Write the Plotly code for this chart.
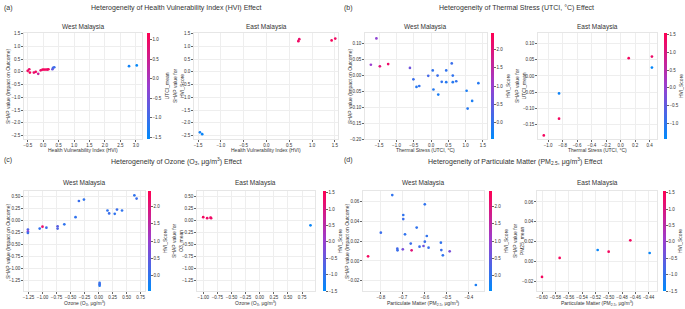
import plotly.graph_objects as go

# ---------------- data ----------------
# (a) Health Vulnerability Index
a_west_x = [-0.50, -0.45, -0.43, -0.30, -0.24, -0.16, -0.08, -0.02, 0.03, 0.09, 0.14, 0.17, 0.30, 0.32, 0.36, 2.78, 3.03]
a_west_y = [0.04, 0.10, -0.03, -0.03, 0.00, -0.08, 0.06, 0.09, 0.09, 0.09, 0.09, 0.10, 0.10, 0.16, 0.18, 0.22, 0.25]
a_west_c = [1.0, 0.9, 1.1, 0.9, 1.0, 0.4, 0.9, 1.0, 1.1, 1.0, 0.9, 1.0, -0.6, -0.9, -1.0, -1.4, -1.5]
a_east_x = [-1.46, -1.41, 0.70, 0.72, 1.43, 1.51]
a_east_y = [-2.37, -2.44, 1.20, 1.28, 1.23, 1.30]
a_east_c = [-1.3, -1.4, 1.3, 1.2, 1.4, 1.3]

# (b) Thermal stress
b_west_x = [-1.58, -1.74, -1.48, -1.24, -0.61, -0.51, -0.42, -0.34, -0.08, 0.05, 0.07, 0.19, 0.21, 0.31,
            0.44, 0.44, 0.60, 0.63, 0.63, 0.73, 1.03, 1.06, 1.19, 1.37]
b_west_y = [0.117, 0.034, 0.029, 0.036, 0.024, -0.012, -0.036, -0.033, -0.001, 0.016, -0.044, 0.000, -0.060,
            -0.020, 0.016, -0.021, 0.038, 0.000, -0.021, -0.018, -0.048, -0.104, -0.080, -0.024]
b_west_c = [0.9, 1.0, 2.0, 2.2, 0.6, 0.1, -0.1, 0.0, 0.2, 0.0, -0.1, 0.1, -0.2, 0.0, 0.0, -0.1, 0.1, 0.0,
            -0.1, 0.0, -0.2, -0.1, -0.2, -0.1]
b_east_x = [-1.06, -0.85, -0.85, 0.11, 0.43, 0.43]
b_east_y = [-0.184, -0.132, -0.054, 0.055, 0.060, 0.026]
b_east_c = [1.4, 1.4, -1.3, 1.4, 1.3, -1.4]

# (c) Ozone
c_west_x = [-1.26, -1.26, -1.26, -1.05, -1.00, -0.93, -0.73, -0.73, -0.61, -0.41, -0.35, -0.26,
            0.02, 0.02, 0.02, 0.16, 0.19, 0.29, 0.33, 0.42, 0.64, 0.68]
c_west_y = [-0.19, -0.23, -0.26, -0.17, -0.13, -0.15, -0.12, -0.17, -0.08, 0.07, 0.41, 0.44,
            -1.31, -1.34, -1.37, 0.21, 0.15, 0.14, 0.23, 0.21, 0.53, 0.46]
c_west_c = [0.3, 1.0, 0.1, 0.0, 2.2, 0.1, 0.4, 0.3, 0.0, 0.0, 0.1, 0.0,
            0.0, 0.2, -0.1, 0.0, 0.1, 0.0, 0.1, 0.0, 0.0, 0.1]
c_east_x = [-1.00, -0.93, -0.87, -0.86, 0.90]
c_east_y = [0.07, 0.05, 0.06, 0.05, -0.10]
c_east_c = [1.4, 1.3, 1.4, 1.3, -1.4]

# (d) Particulate matter
d_west_x = [-0.858, -0.748, -0.800, -0.725, -0.724, -0.700, -0.698, -0.698, -0.690, -0.664, -0.660, -0.637,
            -0.624, -0.606, -0.600, -0.600, -0.591, -0.583, -0.527, -0.525, -0.518, -0.487, -0.368]
d_west_y = [0.0047, 0.0668, 0.0287, 0.0125, 0.0108, 0.0118, 0.0466, 0.0425, 0.0270, 0.0176, 0.0108, 0.0338,
            0.0145, 0.0152, 0.0574, 0.0196, 0.0253, 0.0135, 0.0186, 0.0111, 0.0057, 0.0098, -0.0243]
d_west_c = [2.3, 0.0, 0.1, 0.2, 0.1, 0.7, 0.0, 0.1, 0.0, 0.1, 2.0, 0.0,
            0.1, 0.6, 0.0, 0.1, 0.0, 0.1, 0.0, 0.1, 0.0, 0.7, -0.2]
d_east_x = [-0.600, -0.5735, -0.5165, -0.500, -0.4675, -0.4385]
d_east_y = [-0.0154, 0.0037, 0.0117, 0.0100, 0.0214, 0.0087]
d_east_c = [1.4, 1.4, -1.4, 1.4, 1.4, -1.4]

# ---------------- styling ----------------
W, H = 685, 309
SHAP = [[0.0, "#008bfb"], [0.5, "#9a3fd0"], [1.0, "#ff0052"]]
FONT = "Liberation Sans, Arial, sans-serif"
TXT = "#333333"


def px(x):
    return x / W


def py(y):
    return 1 - y / H


panels = [
    dict(x=a_west_x, y=a_west_y, c=a_west_c, xd=(24, 142), yd=(33, 139), xr=(-0.62, 3.2), yr=(-2.63, 1.52),
         dx=0.5, dy=0.5, cmin=-1.54, cmax=1.17, cbx=147, cbt="UTCI_mean", xf=".1f", yf=".1f"),
    dict(x=a_east_x, y=a_east_y, c=a_east_c, xd=(194, 338), yd=(33, 139), xr=(-1.59, 1.57), yr=(-2.63, 1.52),
         dx=0.5, dy=0.5, cmin=-1.5, cmax=1.5, cbx=None, cbt=None, xf=".1f", yf=".1f"),
    dict(x=b_west_x, y=b_west_y, c=b_west_c, xd=(365, 487), yd=(33, 139), xr=(-1.91, 1.62), yr=(-0.2, 0.134),
         dx=0.5, dy=0.05, cmin=-0.45, cmax=2.45, cbx=491, cbt="HVI_Score", xf=".1f", yf=".2f"),
    dict(x=b_east_x, y=b_east_y, c=b_east_c, xd=(538, 657), yd=(33, 139), xr=(-1.14, 0.50), yr=(-0.195, 0.133),
         dx=0.2, dy=0.05, cmin=-1.45, cmax=1.55, cbx=664, cbt="HVI_Score", xf=".1f", yf=".2f"),
    dict(x=c_west_x, y=c_west_y, c=c_west_c, xd=(24, 145), yd=(191, 291), xr=(-1.33, 0.83), yr=(-1.48, 0.62),
         dx=0.25, dy=0.25, cmin=-0.45, cmax=2.45, cbx=148, cbt="HVI_Score", xf=".2f", yf=".2f"),
    dict(x=c_east_x, y=c_east_y, c=c_east_c, xd=(197, 315), yd=(191, 291), xr=(-1.11, 0.98), yr=(-1.48, 0.62),
         dx=0.25, dy=0.25, cmin=-1.5, cmax=1.55, cbx=323, cbt="HVI_Score", xf=".2f", yf=".2f"),
    dict(x=d_west_x, y=d_west_y, c=d_west_c, xd=(363, 484), yd=(191, 291), xr=(-0.881, -0.331), yr=(-0.0304, 0.0709),
         dx=0.1, dy=0.02, cmin=-0.45, cmax=2.45, cbx=489, cbt="HVI_Score", xf=".1f", yf=".2f"),
    dict(x=d_east_x, y=d_east_y, c=d_east_c, xd=(537, 657), yd=(191, 291), xr=(-0.6075, -0.4275), yr=(-0.0295, 0.071),
         dx=0.02, dy=0.02, cmin=-1.5, cmax=1.55, cbx=663, cbt="HVI_Score", xf=".2f", yf=".2f"),
]

fig = go.Figure()
layout = dict(
    width=W, height=H, margin=dict(l=0, r=0, t=0, b=0),
    paper_bgcolor="white", plot_bgcolor="white", showlegend=False,
    font=dict(family=FONT, color=TXT, size=5),
)

for i, p in enumerate(panels):
    n = "" if i == 0 else str(i + 1)
    xa, ya = "x" + n, "y" + n
    marker = dict(size=2.7, color=p["c"], colorscale=SHAP, cmin=p["cmin"], cmax=p["cmax"], line=dict(width=0))
    if p["cbx"] is not None:
        marker["showscale"] = True
        marker["colorbar"] = dict(
            x=px(p["cbx"]), xanchor="left", xpad=0, y=py(p["yd"][0]), yanchor="top", ypad=0,
            len=(p["yd"][1] - p["yd"][0]) / H, lenmode="fraction", thickness=2.5, thicknessmode="pixels",
            outlinewidth=0, ticks="outside", ticklen=2, tickwidth=0.5, tickcolor="#666",
            tickfont=dict(size=4.5, color=TXT), dtick=0.5, tickformat=".1f",
            title=dict(text=p["cbt"], side="right", font=dict(size=5, color=TXT)),
        )
    else:
        marker["showscale"] = False
    fig.add_trace(go.Scatter(x=p["x"], y=p["y"], mode="markers", marker=marker, xaxis=xa, yaxis=ya,
                             hoverinfo="skip"))
    common = dict(showgrid=True, gridcolor="#eeeeee", gridwidth=0.6, zeroline=False,
                  showline=True, linecolor="#e6e6e6", linewidth=0.6, mirror=True,
                  ticks="outside", ticklen=2, tickwidth=0.5, tickcolor="#666", tickangle=0,
                  tickfont=dict(size=4.5, color=TXT), automargin=False)
    layout["xaxis" + n] = dict(domain=[px(p["xd"][0]), px(p["xd"][1])], range=list(p["xr"]),
                               dtick=p["dx"], tick0=0, tickformat=p["xf"], anchor=ya, **common)
    layout["yaxis" + n] = dict(domain=[py(p["yd"][1]), py(p["yd"][0])], range=list(p["yr"]),
                               dtick=p["dy"], tick0=0, tickformat=p["yf"], anchor=xa, **common)

fig.update_layout(**layout)

ann = []


def add(text, x, y, size, angle=0, xanchor="center", yanchor="middle"):
    ann.append(dict(text=text, x=px(x), y=py(y), xref="paper", yref="paper", showarrow=False,
                    xanchor=xanchor, yanchor=yanchor, textangle=angle, borderpad=0,
                    font=dict(size=size, color=TXT)))


# panel letters and main titles
add("(a)", 3, 8, 7, xanchor="left")
add("Heterogeneity of Health Vulnerability Index (HVI) Effect", 176, 8, 7)
add("(b)", 343, 8, 7, xanchor="left")
add("Heterogeneity of Thermal Stress (UTCI, °C) Effect", 516, 8, 7)
add("(c)", 3, 160, 7, xanchor="left")
add("Heterogeneity of Ozone (O<sub>3</sub>, μg/m<sup>3</sup>) Effect", 176, 161, 7)
add("(d)", 343, 160, 7, xanchor="left")
add("Heterogeneity of Particulate Matter (PM<sub>2.5</sub>, μg/m<sup>3</sup>) Effect", 515, 161, 7)

# subplot titles
for p, t in zip(panels, ["West Malaysia", "East Malaysia"] * 4):
    cx = (p["xd"][0] + p["xd"][1]) / 2
    ty = 27 if p["yd"][0] < 100 else 183
    add(t, cx, ty, 6.5)

# x axis titles
xtitles = ["Health Vulnerability Index (HVI)", "Health Vulnerability Index (HVI)",
           "Thermal Stress (UTCI, °C)", "Thermal Stress (UTCI, °C)",
           "Ozone (O<sub>3</sub>, μg/m<sup>3</sup>)", "Ozone (O<sub>3</sub>, μg/m<sup>3</sup>)",
           "Particulate Matter (PM<sub>2.5</sub>, μg/m<sup>3</sup>)",
           "Particulate Matter (PM<sub>2.5</sub>, μg/m<sup>3</sup>)"]
for p, t in zip(panels, xtitles):
    cx = (p["xd"][0] + p["xd"][1]) / 2
    ty = 150 if p["yd"][0] < 100 else 303
    add(t, cx, ty, 5)

# y axis titles
ytitles = ["SHAP value (Impact on Outcome)", "SHAP value for<br>HVI_Score",
           "SHAP value (Impact on Outcome)", "SHAP value for<br>UTCI_mean",
           "SHAP value (Impact on Outcome)", "SHAP value for<br>O3_mean",
           "SHAP value (Impact on Outcome)", "SHAP value for<br>PM25_mean"]
yx = [8, 178, 350, 520, 8, 178, 347, 519]
for p, t, x in zip(panels, ytitles, yx):
    cy = (p["yd"][0] + p["yd"][1]) / 2
    add(t, x, cy, 5, angle=-90)

fig.update_layout(annotations=ann)
# the page's default 8px body margin would shift the whole figure; remove it
fig.write_html("out.html", config={"displayModeBar": False},
               post_script="document.body.style.margin='0px';document.body.style.overflow='hidden';")
